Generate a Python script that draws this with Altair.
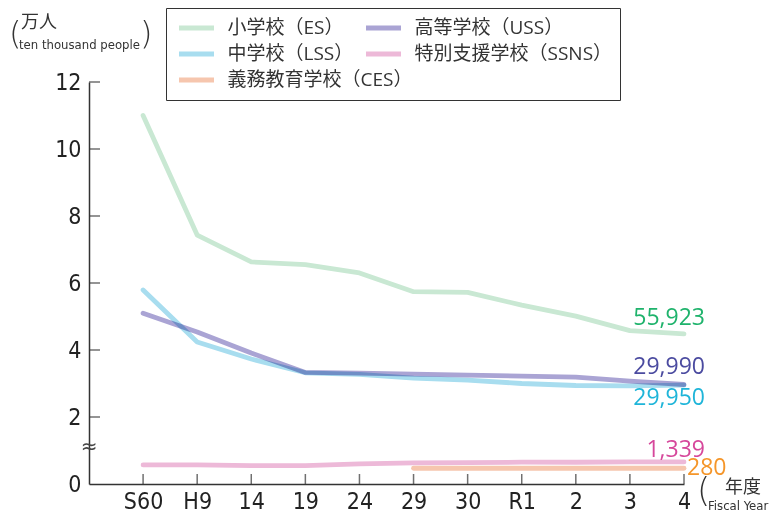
import altair as alt
import pandas as pd

# ---- data ----
years = ["S60", "H9", "14", "19", "24", "29", "30", "R1", "2", "3", "4"]
es = [11.00, 7.43, 6.63, 6.55, 6.30, 5.74, 5.72, 5.34, 5.01, 4.58, 4.48]
lss = [5.79, 4.24, 3.73, 3.32, 3.27, 3.16, 3.10, 3.00, 2.94, 2.93, 2.95]
uss = [5.10, 4.54, 3.91, 3.33, 3.31, 3.28, 3.25, 3.22, 3.19, 3.07, 2.97]
ssns = [0.57, 0.57, 0.55, 0.55, 0.60, 0.63, 0.64, 0.65, 0.65, 0.66, 0.66]
ces = [None, None, None, None, None, 0.47, 0.47, 0.47, 0.47, 0.47, 0.47]
series_names = ["小学校（ES）", "高等学校（USS）", "中学校（LSS）", "特別支援学校（SSNS）"]
ces_name = "義務教育学校（CES）"
end_labels = ["55,923", "29,990", "29,950", "1,339", "280"]
y_ticks = [0, 2, 4, 6, 8, 10, 12]

# ---- styles ----
line_colors = ["#c9e8d3", "#aaa4d4", "#a8ddef", "#edb9d8"]
ces_color = "#f6c6ae"
label_colors = ["#1fb36c", "#4b4ba0", "#1fb5d9", "#d6479b", "#f5962a"]
NUM_FONT = "Open Sans"
AX_FONT = "Liberation Sans Narrow, DejaVu Sans Condensed, sans-serif"
CJK = "Noto Sans CJK JP"
LEG_FONT = "Open Sans, Noto Sans CJK JP"

rows = []
for name, vals in zip(series_names, [es, uss, lss, ssns]):
    for i, v in enumerate(vals):
        rows.append({"i": i, "v": v, "s": name})
df = pd.DataFrame(rows)
df_ces = pd.DataFrame([{"i": i, "v": v, "s": ces_name} for i, v in enumerate(ces) if v is not None])

label_expr = "[" + ",".join(f"'{y}'" for y in years) + "][datum.value]"

x_scale = alt.Scale(domain=[-1, len(years) - 1], nice=False, zero=False)
y_scale = alt.Scale(domain=[0, 12], nice=False)
x_axis = alt.Axis(values=list(range(len(years))), labelExpr=label_expr, tickSize=0,
                  grid=False, title=None, labelFont=AX_FONT, labelFontSize=23,
                  labelColor="#222", labelPadding=6, domainColor="#333", domainWidth=1.5,
                  labelFlush=False)
y_axis = alt.Axis(values=y_ticks, tickSize=0, grid=False, title=None, labelFont=AX_FONT,
                  labelFontSize=23, labelColor="#222", labelPadding=8,
                  domainColor="#333", domainWidth=1.5)

leg_common = dict(symbolType="stroke", clipHeight=26, symbolStrokeWidth=5, symbolSize=1225,
                  symbolOpacity=1, labelFont=LEG_FONT, labelFontSize=19, labelColor="#333",
                  labelOffset=11, labelLimit=400, symbolOffset=3.5, rowPadding=0)

line_mark = dict(strokeWidth=4.8, strokeCap="round", strokeJoin="round", blend="multiply")

lines = alt.Chart(df).mark_line(**line_mark).encode(
    x=alt.X("i:Q", scale=x_scale, axis=x_axis),
    y=alt.Y("v:Q", scale=y_scale, axis=y_axis),
    color=alt.Color("s:N", scale=alt.Scale(domain=series_names, range=line_colors),
                    legend=alt.Legend(title=" ", titleOrient="bottom", titleFontSize=18,
                                      titlePadding=8, orient="none", legendX=77, legendY=-74,
                                      columns=2, direction="horizontal",
                                      strokeColor="#333", fillColor="white", padding=7,
                                      columnPadding=6, **leg_common)),
    detail="s:N",
)

lines_ces = alt.Chart(df_ces).mark_line(**line_mark).encode(
    x=alt.X("i:Q", scale=x_scale, axis=x_axis),
    y=alt.Y("v:Q", scale=y_scale, axis=y_axis),
    color=alt.Color("s:N", scale=alt.Scale(domain=[ces_name], range=[ces_color]),
                    legend=alt.Legend(title=None, orient="none", legendX=84, legendY=-15,
                                      padding=0, **leg_common)),
)

tick_df = pd.DataFrame({"i": list(range(len(years)))})
x_ticks = alt.Chart(tick_df).mark_tick(orient="vertical", size=10, thickness=1.5, color="#333",
                                       yOffset=-5).encode(
    x=alt.X("i:Q", scale=x_scale, axis=x_axis), y=alt.YDatum(0, scale=y_scale, axis=y_axis))

ytick_df = pd.DataFrame({"v": y_ticks[1:]})
y_ticks_l = alt.Chart(ytick_df).mark_tick(orient="horizontal", size=11, thickness=1.5, color="#333",
                                          xOffset=5.5).encode(
    y=alt.Y("v:Q", scale=y_scale, axis=y_axis), x=alt.XDatum(-1, scale=x_scale, axis=x_axis))

brk = alt.Chart(pd.DataFrame({"a": [0]})).mark_text(text="≈", fontSize=20, color="#444",
                                                   font="DejaVu Sans").encode(
    x=alt.XDatum(-1, scale=x_scale, axis=x_axis), y=alt.YDatum(1.1, scale=y_scale, axis=y_axis))

# end value labels
last_vals = [es[-1], uss[-1], lss[-1], ssns[-1], ces[-1]]
offsets = [(21, -16, "right"), (21, -18, "right"), (21, 13, "right"), (21, -12, "right"), (3, 0, "left")]
label_layers = []
for txt, val, col, (dx, dy, al) in zip(end_labels, last_vals, label_colors, offsets):
    label_layers.append(
        alt.Chart(pd.DataFrame({"a": [0]})).mark_text(
            text=txt, color=col, font=NUM_FONT, fontSize=23, align=al, baseline="middle",
            dx=dx, dy=dy).encode(
            x=alt.XDatum(len(years) - 1, scale=x_scale, axis=x_axis),
            y=alt.YDatum(val, scale=y_scale, axis=y_axis))
    )

# unit annotations (positions relative to plot origin)
def note(txt, x, y, size, font, color="#333", align="left", weight="normal"):
    return alt.Chart(pd.DataFrame({"a": [0]})).mark_text(
        text=txt, fontSize=size, font=font, color=color, align=align, baseline="middle",
        fontWeight=weight).encode(x=alt.value(x), y=alt.value(y))

ox, oy = 89, 82
notes = [
    note("(", 9 - ox, 34 - oy, 32, "DejaVu Sans", weight=300),
    note(")", 140 - ox, 34 - oy, 32, "DejaVu Sans", weight=300),
    note("万人", 21 - ox, 23 - oy, 18, CJK),
    note("ten thousand people", 19 - ox, 45 - oy, 13, AX_FONT),
    note("(", 697 - ox, 492 - oy, 34, "DejaVu Sans", weight=300),
    note("年度", 725 - ox, 488 - oy, 18, CJK),
    note("Fiscal Year", 708 - ox, 506 - oy, 13, AX_FONT),
]

chart = alt.layer(lines, lines_ces, x_ticks, y_ticks_l, brk, *label_layers, *notes).resolve_scale(
    color="independent"
).properties(
    width=595, height=402,
    autosize=alt.AutoSizeParams(type="none"),
    padding={"left": 81, "top": 74, "right": 89, "bottom": 29},
).configure_view(stroke=None)

chart.save("out.html", embed_options={"renderer": "svg", "actions": False})
